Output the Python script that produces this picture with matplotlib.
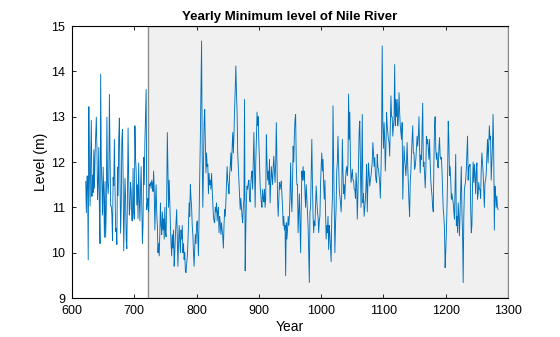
import matplotlib
matplotlib.use("Agg")
import matplotlib.pyplot as plt
import numpy as np

plt.rcParams['font.family'] = ['Liberation Sans', 'DejaVu Sans']

# yearly minimum water level (cm), one value per year starting 622
first_year = 622
level_cm = [
    1157, 1088, 1169, 1169, 984, 1322, 1178, 1103, 1211, 1292,
    1124, 1171, 1133, 1227, 1142, 1216, 1259, 1299, 1232, 1117,
    1155, 1232, 1083, 1020, 1394, 1196, 1148, 1083, 1189, 1133,
    1034, 1157, 1034, 1097, 1299, 1157, 1130, 1155, 1349, 1232,
    1103, 1103, 1083, 1027, 1166, 1148, 1250, 1155, 1047, 1054,
    1018, 1189, 1126, 1250, 1297, 1178, 1043, 1103, 1250, 1272,
    1169, 1004, 1083, 1164, 1124, 1027, 1009, 1126, 1275, 1162,
    1083, 1099, 1155, 1135, 1071, 1070, 1186, 1089, 1074, 1280,
    1210, 1180, 1105, 1150, 1075, 1198, 1120, 1070, 1140, 1190,
    1110, 1020, 1060, 1210, 1150, 1245, 1300, 1360, 1095, 1110,
    1120, 1090, 1150, 1148, 1155, 1142, 1160, 1152, 1135, 1180,
    1140, 1050, 1110, 1150, 1085, 1060, 1000, 1020, 993, 1045,
    1110, 1060, 1040, 1090, 1050, 1075, 1030, 1100, 1045, 1035,
    1120, 1265, 1180, 1100, 1160, 1110, 1060, 1020, 993, 1040,
    1010, 1050, 970, 1000, 1040, 1070, 1095, 1030, 970, 1020,
    1060, 1030, 1000, 1050, 1030, 1060, 1000, 1020, 985, 1000,
    960, 956, 975, 990, 1020, 1060, 1110, 1080, 1150, 1120,
    1100, 1060, 1040, 1000, 970, 1010, 1040, 1020, 1060, 1070,
    1030, 993, 1080, 1176, 1250, 1360, 1467, 1220, 1100, 1180,
    1287, 1316, 1240, 1176, 1220, 1190, 1195, 1130, 1175, 1150,
    1160, 1140, 1175, 1140, 1110, 1080, 1070, 1066, 1100, 1090,
    1110, 1070, 1090, 1100, 1044, 1080, 1066, 1040, 1066, 1050,
    1037, 1010, 1060, 1095, 1080, 1110, 1150, 1190, 1160, 1147,
    1130, 1170, 1190, 1220, 1180, 1230, 1265, 1220, 1260, 1316,
    1360, 1412, 1353, 1310, 1220, 1190, 1160, 1130, 1095, 1120,
    1100, 1080, 1066, 1100, 1118, 1338, 960, 1050, 1120, 1147,
    1140, 1155, 1160, 1120, 1112, 1150, 1170, 1180, 1140, 1200,
    1265, 1180, 1100, 1200, 1250, 1310, 1280, 1300, 1240, 1200,
    1147, 1130, 1110, 1100, 1140, 1120, 1112, 1140, 1100, 1120,
    1260, 1200, 1160, 1180, 1150, 1206, 1110, 1150, 1190, 1170,
    1150, 1190, 1213, 1180, 1155, 1200, 1287, 1200, 1120, 1080,
    1120, 1155, 1140, 1150, 1158, 1130, 1100, 1060, 1080, 1050,
    1060, 949, 1066, 1030, 1050, 1080, 1060, 1080, 1130, 1198,
    1120, 1090, 1150, 1235, 1200, 1260, 1294, 1305, 1198, 1150,
    1150, 1044, 1090, 1130, 1060, 1000, 1100, 1180, 1160, 1190,
    1160, 1180, 1130, 1100, 1150, 1120, 1095, 1060, 1000, 934,
    1090, 1100, 1180, 1250, 1150, 1080, 1044, 1070, 1060, 1100,
    1147, 1120, 1090, 1080, 1044, 1070, 1080, 1150, 1190, 1220,
    1180, 1206, 1150, 1118, 1160, 1100, 1030, 1060, 1044, 1080,
    1007, 1060, 1040, 1010, 980, 1080, 1118, 1324, 1200, 1100,
    1000, 1060, 1100, 1180, 1200, 1257, 1200, 1140, 1125, 1110,
    1090, 1130, 1250, 1180, 1130, 1150, 1118, 1160, 1180, 1190,
    1170, 1195, 1350, 1250, 1310, 1200, 1155, 1170, 1184, 1160,
    1160, 1140, 1140, 1120, 1176, 1150, 1074, 1130, 1200, 1270,
    1290, 1200, 1100, 1180, 1305, 1110, 1130, 1080, 1100, 1118,
    1150, 1195, 1090, 1150, 1198, 1170, 1147, 1160, 1170, 1184,
    1200, 1243, 1220, 1190, 1210, 1176, 1160, 1155, 1217, 1190,
    1184, 1170, 1155, 1120, 1180, 1257, 1456, 1280, 1230, 1287,
    1250, 1180, 1230, 1309, 1280, 1265, 1250, 1243, 1213, 1280,
    1346, 1300, 1300, 1257, 1280, 1294, 1415, 1280, 1338, 1300,
    1338, 1280, 1300, 1353, 1309, 1280, 1265, 1250, 1287, 1118,
    1180, 1235, 1206, 1190, 1170, 1200, 1243, 1190, 1147, 1110,
    1080, 1155, 1180, 1220, 1250, 1280, 1220, 1220, 1184, 1190,
    1206, 1230, 1257, 1235, 1257, 1300, 1230, 1176, 1215, 1206,
    1265, 1330, 1190, 1200, 1176, 1143, 1180, 1257, 1240, 1250,
    1230, 1206, 1250, 1200, 1160, 1140, 1125, 1100, 1090, 1200,
    1280, 1300, 1230, 1206, 1220, 1190, 1187, 1230, 1254, 1213,
    1206, 1210, 1180, 1140, 1095, 1080, 1050, 967, 1000, 1044,
    1100, 1170, 1290, 1250, 1170, 1190, 1160, 1118, 1130, 1118,
    1110, 1090, 1074, 1150, 1217, 1060, 1080, 1044, 1110, 1080,
    1037, 1090, 1150, 1190, 1090, 1040, 934, 1080, 1140, 1150,
    1160, 1184, 1220, 1257, 1160, 1190, 1190, 1195, 1100, 1044,
    1060, 1150, 1200, 1155, 1195, 1170, 1130, 1180, 1198, 1118,
    1130, 1155, 1140, 1140, 1120, 1184, 1220, 1200, 1176, 1140,
    1100, 1155, 1160, 1176, 1210, 1250, 1198, 1240, 1280, 1250,
    1257, 1160, 1200, 1235, 1305, 1228, 1050, 1147, 1130, 1100,
    1125, 1100, 1095,
]
shade_start = 722   # shaded period after the first 100 years

years = first_year + np.arange(len(level_cm))
level = np.array(level_cm) / 100.0

fig = plt.figure(figsize=(5.6, 3.37), dpi=100)
ax = fig.add_axes([0.1286, 0.1157, 0.7786, 0.8071])

ax.axvspan(shade_start, 1300, facecolor='#f0f0f0', edgecolor='#8c8c8c',
           linewidth=1.0, zorder=0)
ax.plot(years, level, color='#0072BD', linewidth=0.65, zorder=2)

ax.set_xlim(600, 1300)
ax.set_ylim(9, 15)
ax.set_xticks(np.arange(600, 1301, 100))
ax.set_yticks(np.arange(9, 16, 1))
ax.tick_params(direction='in', length=3, width=0.6, labelsize=9,
               top=True, right=True)
ax.tick_params(axis='x', pad=5)
ax.tick_params(axis='y', pad=5)
for s in ax.spines.values():
    s.set_linewidth(0.8)
ax.spines['right'].set_color('#8c8c8c')

ax.set_xlabel('Year', fontsize=10, labelpad=2)
ax.set_ylabel('Level (m)', fontsize=10, labelpad=2)
ax.set_title('Yearly Minimum level of Nile River', fontsize=9.5,
             fontweight='bold', pad=4)

fig.savefig('out.png', dpi=100)
